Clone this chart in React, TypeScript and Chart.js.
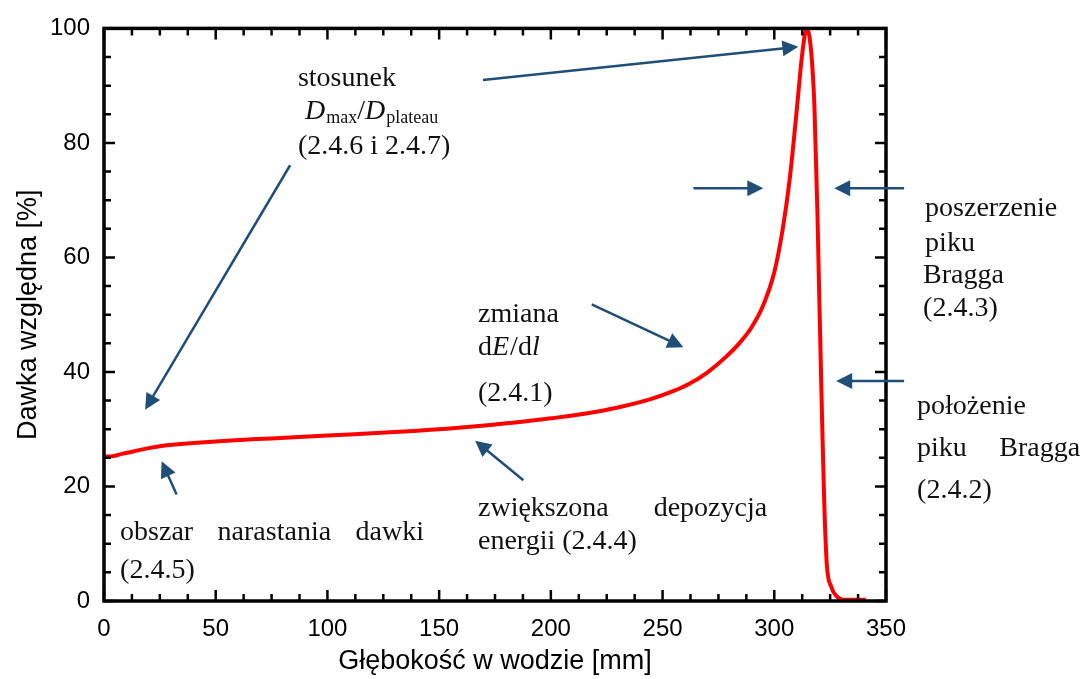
import React, { useEffect, useRef } from 'react';
import { Chart, registerables } from 'chart.js';

Chart.register(...registerables);

// ---- data ----
const depthMm = [0, 4, 8, 13, 20, 28, 40, 55, 75, 100, 130, 160, 185, 200, 215, 230, 245, 255, 262, 270, 278, 285, 290, 295, 300, 304, 307, 310, 312.5, 314.5, 316.5, 318, 319.3, 320.2, 321.2, 322.3, 323.5, 325.5, 328, 331, 341];
const relDose = [25.2, 25.3, 25.7, 26.1, 26.7, 27.2, 27.6, 28.0, 28.4, 28.9, 29.5, 30.3, 31.2, 31.9, 32.7, 33.8, 35.3, 36.7, 37.95, 39.9, 42.5, 45.3, 47.9, 51.6, 57.4, 65.5, 74.0, 85.5, 95.5, 100, 96.0, 86.0, 68.0, 52.0, 35.0, 18.0, 6.5, 2.5, 0.8, 0.2, 0.2];

const xRange = [0, 350];
const yRange = [0, 100];
const xMajorStep = 50;
const xMinorStep = 12.5;
const yMajorStep = 20;
const yMinorStep = 5;

const xTitle = 'Głębokość w wodzie [mm]';
const yTitle = 'Dawka względna [%]';

// annotation arrows, in data units
const arrowFrom = [
  [169.6, 91.0], [83.3, 76.1], [32.5, 18.6], [218.3, 51.8],
  [187.7, 21.1], [263.8, 72.1], [358.1, 72.1], [358.1, 38.4],
];
const arrowTo = [
  [310.8, 96.8], [18.4, 33.4], [25.8, 24.4], [259.3, 44.3],
  [166.1, 28.0], [295.1, 72.1], [326.8, 72.1], [327.7, 38.4],
];

type Run = { t: string; i?: boolean; sub?: boolean };
type Note = { x: number; y: number; xEnd?: number; runs: Run[] };

// annotation texts, anchored in data units (left x, baseline y)
const notes: Note[] = [
  { x: 86.8, y: 90.0, runs: [{ t: 'stosunek' }] },
  { x: 90.0, y: 84.1, runs: [{ t: 'D', i: true }, { t: 'max', sub: true }, { t: '/' }, { t: 'D', i: true }, { t: 'plateau', sub: true }] },
  { x: 86.8, y: 78.0, runs: [{ t: '(2.4.6 i 2.4.7)' }] },
  { x: 167.4, y: 48.8, runs: [{ t: 'zmiana' }] },
  { x: 167.4, y: 42.9, runs: [{ t: 'd' }, { t: 'E', i: true }, { t: '/d' }, { t: 'l', i: true }] },
  { x: 167.4, y: 34.9, runs: [{ t: '(2.4.1)' }] },
  { x: 167.4, y: 14.9, xEnd: 296.8, runs: [{ t: 'zwiększona depozycja' }] },
  { x: 167.4, y: 9.0, runs: [{ t: 'energii (2.4.4)' }] },
  { x: 7.2, y: 10.6, xEnd: 143.2, runs: [{ t: 'obszar narastania dawki' }] },
  { x: 7.2, y: 4.0, runs: [{ t: '(2.4.5)' }] },
  { x: 367.5, y: 67.3, runs: [{ t: 'poszerzenie' }] },
  { x: 367.5, y: 61.2, runs: [{ t: 'piku' }] },
  { x: 366.6, y: 55.5, runs: [{ t: 'Bragga' }] },
  { x: 366.6, y: 49.8, runs: [{ t: '(2.4.3)' }] },
  { x: 363.9, y: 32.7, runs: [{ t: 'położenie' }] },
  { x: 363.9, y: 25.4, xEnd: 436.9, runs: [{ t: 'piku Bragga' }] },
  { x: 363.9, y: 18.0, runs: [{ t: '(2.4.2)' }] },
];

const SERIF = '"Liberation Serif", "Times New Roman", serif';
const SANS = '"Liberation Sans", Arial, sans-serif';
const ARROW_COLOR = '#1f4e79';
const TEXT_SIZE = 28;

const decorPlugin = {
  id: 'decor',
  afterDraw(chart: any) {
    const { ctx, chartArea } = chart;
    const xs = chart.scales.x;
    const ys = chart.scales.y;
    const px = (v: number) => xs.getPixelForValue(v);
    const py = (v: number) => ys.getPixelForValue(v);
    const { left, right, top, bottom } = chartArea;
    ctx.save();

    // inner ticks
    ctx.strokeStyle = '#000';
    ctx.lineWidth = 2.5;
    ctx.beginPath();
    for (let v = xRange[0]; v <= xRange[1] + 1e-6; v += xMinorStep) {
      const major = Math.abs(v % xMajorStep) < 1e-6;
      const len = major ? 11 : 7;
      const x = px(v);
      ctx.moveTo(x, bottom); ctx.lineTo(x, bottom - len);
      ctx.moveTo(x, top); ctx.lineTo(x, top + len);
    }
    for (let v = yRange[0]; v <= yRange[1] + 1e-6; v += yMinorStep) {
      const major = Math.abs(v % yMajorStep) < 1e-6;
      const len = major ? 11 : 7;
      const y = py(v);
      ctx.moveTo(left, y); ctx.lineTo(left + len, y);
      ctx.moveTo(right, y); ctx.lineTo(right - len, y);
    }
    ctx.stroke();

    // frame
    ctx.lineWidth = 3.5;
    ctx.strokeRect(left, top, right - left, bottom - top);

    // arrows
    ctx.strokeStyle = ARROW_COLOR;
    ctx.fillStyle = ARROW_COLOR;
    arrowFrom.forEach((f, k) => {
      const t = arrowTo[k];
      const x1 = px(f[0]), y1 = py(f[1]), x2 = px(t[0]), y2 = py(t[1]);
      const ang = Math.atan2(y2 - y1, x2 - x1);
      const hl = 16, hw = 8;
      const bx = x2 - hl * Math.cos(ang), by = y2 - hl * Math.sin(ang);
      ctx.lineWidth = 2.5;
      ctx.beginPath();
      ctx.moveTo(x1, y1);
      ctx.lineTo(bx + 2 * Math.cos(ang), by + 2 * Math.sin(ang));
      ctx.stroke();
      ctx.beginPath();
      ctx.moveTo(x2, y2);
      ctx.lineTo(bx + hw * Math.sin(ang), by - hw * Math.cos(ang));
      ctx.lineTo(bx - hw * Math.sin(ang), by + hw * Math.cos(ang));
      ctx.closePath();
      ctx.fill();
    });

    // texts
    ctx.fillStyle = '#111';
    ctx.textBaseline = 'alphabetic';
    ctx.textAlign = 'left';
    const fontFor = (r: Run) =>
      `${r.i ? 'italic ' : ''}${r.sub ? Math.round(TEXT_SIZE * 0.64) : TEXT_SIZE}px ${SERIF}`;
    notes.forEach((n) => {
      const x0 = px(n.x);
      const y0 = py(n.y);
      if (n.xEnd !== undefined) {
        ctx.font = fontFor(n.runs[0]);
        const words = n.runs[0].t.split(' ');
        const widths = words.map((w) => ctx.measureText(w).width);
        const total = widths.reduce((a, b) => a + b, 0);
        const gap = (px(n.xEnd) - x0 - total) / Math.max(1, words.length - 1);
        let x = x0;
        words.forEach((w, k) => {
          ctx.fillText(w, x, y0);
          x += widths[k] + gap;
        });
      } else {
        let x = x0;
        n.runs.forEach((r) => {
          ctx.font = fontFor(r);
          ctx.fillText(r.t, x, y0 + (r.sub ? 4 : 0));
          x += ctx.measureText(r.t).width + (r.i ? 1 : 0);
        });
      }
    });
    ctx.restore();
  },
};

export default function App() {
  const ref = useRef<HTMLCanvasElement | null>(null);
  useEffect(() => {
    document.body.style.margin = '0';
    const canvas = ref.current;
    if (!canvas) return;
    const chart = new Chart(canvas, {
      type: 'line',
      data: {
        datasets: [
          {
            data: depthMm.map((d, k) => ({ x: d, y: relDose[k] })),
            borderColor: '#ff0000',
            borderWidth: 4,
            pointRadius: 0,
            fill: false,
            cubicInterpolationMode: 'monotone',
          },
        ],
      },
      options: {
        animation: false,
        responsive: false,
        devicePixelRatio: 1,
        layout: { padding: { left: 0, top: 23, right: 197, bottom: 0 } },
        plugins: { legend: { display: false }, tooltip: { enabled: false } },
        scales: {
          x: {
            type: 'linear',
            min: xRange[0],
            max: xRange[1],
            grid: { display: false, drawTicks: false },
            border: { display: false },
            ticks: { stepSize: xMajorStep, color: '#000', padding: 14, font: { family: SANS, size: 24 } },
            title: { display: true, text: xTitle, color: '#000', font: { family: SANS, size: 27 }, padding: { top: 0, bottom: 1 } },
            afterFit: (s: any) => { s.height = 78; },
          },
          y: {
            type: 'linear',
            min: yRange[0],
            max: yRange[1],
            grid: { display: false, drawTicks: false },
            border: { display: false },
            ticks: { stepSize: yMajorStep, color: '#000', padding: 14, font: { family: SANS, size: 24 } },
            title: { display: true, text: yTitle, color: '#000', font: { family: SANS, size: 27 }, padding: { top: 12, bottom: 0 } },
            afterFit: (s: any) => { s.width = 104; },
          },
        },
      },
      plugins: [decorPlugin],
    } as any);
    return () => chart.destroy();
  }, []);
  return (
    <div style={{ position: 'absolute', left: 0, top: 0, width: 1083, height: 679, background: '#fff' }}>
      <canvas ref={ref} width={1083} height={679} style={{ display: 'block' }} />
    </div>
  );
}
